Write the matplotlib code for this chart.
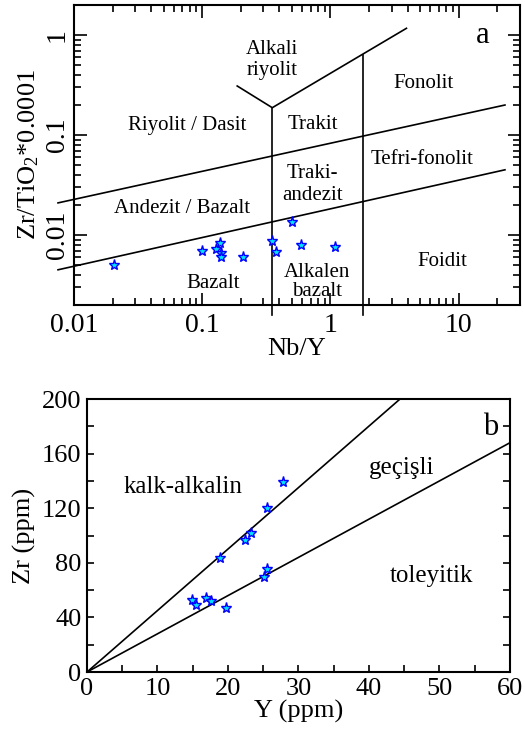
import numpy as np
import matplotlib
matplotlib.use("Agg")
import matplotlib.pyplot as plt
from matplotlib.ticker import FixedLocator, LogLocator, MultipleLocator, NullFormatter

plt.rcParams['font.family'] = ['Liberation Serif', 'DejaVu Serif']
plt.rcParams['mathtext.default'] = 'regular'

# panel a: Nb/Y vs Zr/TiO2*0.0001
nb_y = [0.0205, 0.100, 0.129, 0.138, 0.141, 0.141, 0.209, 0.352, 0.379, 0.505, 0.593, 1.094]
zr_ti = [0.00506, 0.00689, 0.00726, 0.00832, 0.00662, 0.00608, 0.00608, 0.00878, 0.00673,
         0.01355, 0.0080, 0.00765]

# field boundaries (Nb/Y, Zr/TiO2)
upper_x = [0.0075, 23.0]
upper_y = [0.021, 0.20]
lower_x = [0.0075, 23.0]
lower_y = [0.0045, 0.045]
vee_x = [0.1875, 0.352, 3.92]
vee_y = [0.31, 0.188, 1.17]
vert1_x = [0.352, 0.352]
vert1_y = [0.0016, 0.188]
vert2_x = [1.78, 1.78]
vert2_y = [0.0016, 0.64]

# panel b: Y vs Zr
y_ppm = [14.9, 15.5, 16.9, 17.55, 19.7, 18.8, 22.4, 23.2, 25.5, 27.8, 25.5, 25.1]
zr_ppm = [53.1, 49.0, 54.3, 52.1, 47.2, 83.2, 96.7, 101.6, 120.4, 139.0, 75.4, 69.8]
calc_x = [0, 44.4]
calc_y = [0, 200]
thol_x = [0, 60]
thol_y = [0, 168]

fig = plt.figure(figsize=(5.25, 7.38), dpi=100)

# ---- panel a ----
ax1 = fig.add_axes([0.141, 0.5867, 0.849, 0.4065])
ax1.set_xscale('log')
ax1.set_yscale('log')
ax1.set_xlim(0.01, 30)
ax1.set_ylim(0.002, 2)

lw = 1.2
for xs, ys in [(upper_x, upper_y), (lower_x, lower_y), (vee_x, vee_y),
               (vert1_x, vert1_y), (vert2_x, vert2_y)]:
    ax1.plot(xs, ys, color='black', lw=lw, clip_on=False, zorder=2)

ax1.plot(nb_y, zr_ti, linestyle='none', marker='*', ms=8,
         markerfacecolor='#00e5ff', markeredgecolor='#0000ff', markeredgewidth=1.0, zorder=3)

fs_a = 15
ax1.text(15.4, 1.0, 'a', fontsize=22, ha='center', va='center')
ax1.text(0.352, 0.564, 'Alkali\nriyolit', fontsize=fs_a, ha='center', va='center', linespacing=1.1)
ax1.text(5.33, 0.325, 'Fonolit', fontsize=fs_a, ha='center', va='center')
ax1.text(0.0763, 0.124, 'Riyolit / Dasit', fontsize=fs_a, ha='center', va='center')
ax1.text(0.736, 0.127, 'Trakit', fontsize=fs_a, ha='center', va='center')
ax1.text(5.23, 0.057, 'Tefri-fonolit', fontsize=fs_a, ha='center', va='center')
ax1.text(0.723, 0.0321, 'Traki-\nandezit', fontsize=fs_a, ha='center', va='center', linespacing=1.2)
ax1.text(0.0698, 0.0186, 'Andezit / Bazalt', fontsize=fs_a, ha='center', va='center')
ax1.text(7.5, 0.0055, 'Foidit', fontsize=fs_a, ha='center', va='center')
ax1.text(0.122, 0.00325, 'Bazalt', fontsize=fs_a, ha='center', va='center')
ax1.text(0.79, 0.0034, 'Alkalen\nbazalt', fontsize=fs_a, ha='center', va='center', linespacing=0.95)

ax1.xaxis.set_major_locator(FixedLocator([0.01, 0.1, 1, 10]))
ax1.set_xticklabels(['0.01', '0.1', '1', '10'])
ax1.xaxis.set_minor_locator(LogLocator(base=10, subs=np.arange(2, 10)))
ax1.xaxis.set_minor_formatter(NullFormatter())
ax1.yaxis.set_major_locator(FixedLocator([0.01, 0.1, 1]))
ax1.set_yticklabels(['0.01', '0.1', '1'], rotation=90, va='center')
ax1.yaxis.set_minor_locator(LogLocator(base=10, subs=np.arange(2, 10)))
ax1.yaxis.set_minor_formatter(NullFormatter())
ax1.tick_params(which='both', direction='in', top=True, right=True, labelsize=20, width=1.2)
ax1.tick_params(which='major', length=9)
ax1.tick_params(axis='x', which='major', pad=6)
ax1.tick_params(axis='y', which='major', pad=3)
ax1.tick_params(which='minor', length=5)
ax1.set_xlabel('Nb/Y', fontsize=19, labelpad=0)
ax1.set_ylabel('Zr/TiO$_2$*0.0001', fontsize=19, labelpad=3)
for s in ax1.spines.values():
    s.set_linewidth(1.5)

# ---- panel b ----
ax2 = fig.add_axes([0.1657, 0.0894, 0.8057, 0.3699])
ax2.set_xlim(0, 60)
ax2.set_ylim(0, 200)
ax2.plot(calc_x, calc_y, color='black', lw=lw, zorder=2)
ax2.plot(thol_x, thol_y, color='black', lw=lw, zorder=2)
ax2.plot(y_ppm, zr_ppm, linestyle='none', marker='*', ms=8,
         markerfacecolor='#00e5ff', markeredgecolor='#0000ff', markeredgewidth=1.0, zorder=3)

fs_b = 18
ax2.text(57.2, 179.5, 'b', fontsize=22, ha='center', va='center')
ax2.text(13.6, 135.5, 'kalk-alkalin', fontsize=fs_b, ha='center', va='center')
ax2.text(44.7, 149.5, 'geçişli', fontsize=fs_b, ha='center', va='center')
ax2.text(48.8, 70.3, 'toleyitik', fontsize=fs_b, ha='center', va='center')

ax2.xaxis.set_major_locator(MultipleLocator(10))
ax2.xaxis.set_minor_locator(MultipleLocator(5))
ax2.yaxis.set_major_locator(MultipleLocator(40))
ax2.yaxis.set_minor_locator(MultipleLocator(20))
ax2.tick_params(which='both', direction='in', right=True, labelsize=19, width=1.2, length=5)
ax2.tick_params(which='major', pad=4)
ax2.set_xlabel('Y (ppm)', fontsize=19, labelpad=0)
ax2.set_ylabel('Zr (ppm)', fontsize=19, labelpad=4)
for s in ax2.spines.values():
    s.set_linewidth(1.5)

fig.savefig('out.png', dpi=100)
